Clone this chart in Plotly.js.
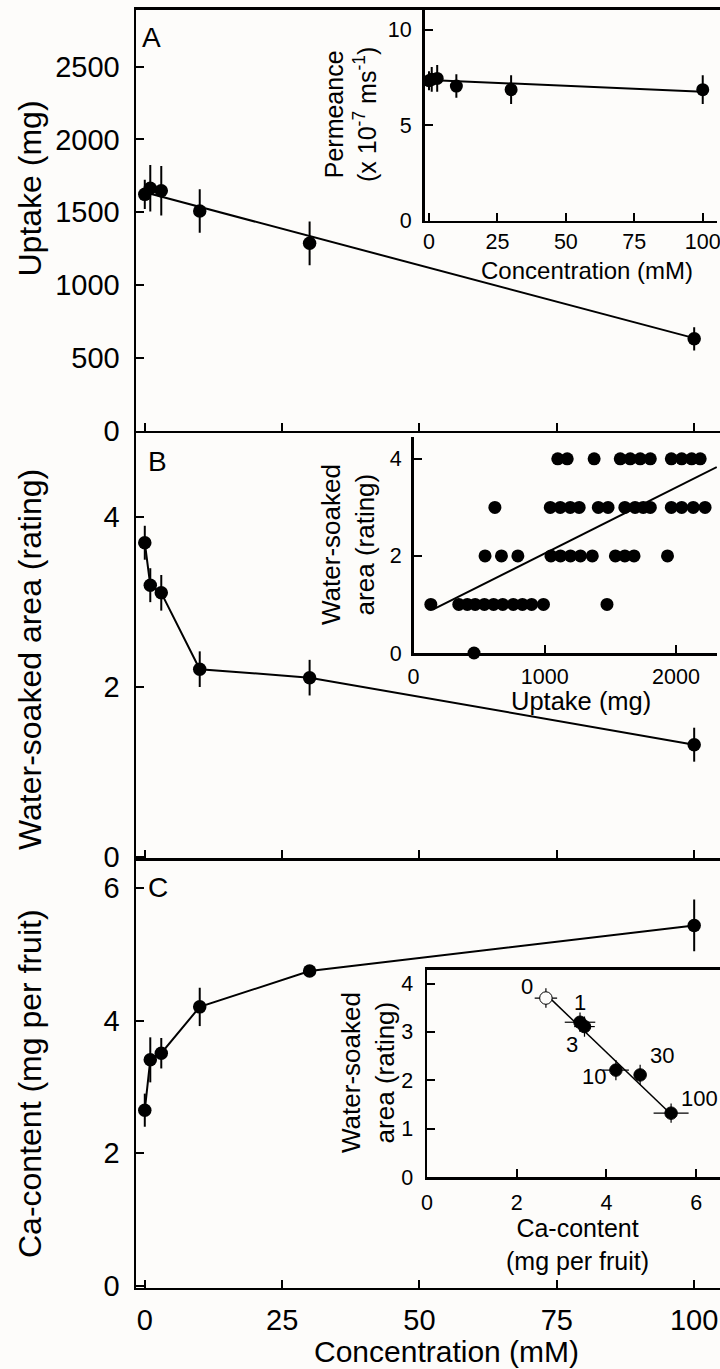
<!DOCTYPE html>
<html><head><meta charset="utf-8">
<script src="https://cdn.plot.ly/plotly-3.0.1.min.js"></script>
<style>html,body{margin:0;padding:0;background:#fdfcfa;} #chart{width:720px;height:1369px;}</style>
</head><body><div id="chart"></div>
<script>
// ---------- data ----------
const conc = [0, 1, 3, 10, 30, 100];
const concLabels = ['0', '1', '3', '10', '30', '100'];

const uptake = [1623, 1665, 1648, 1509, 1287, 631];
const uptakeErr = [100, 160, 170, 150, 150, 80];
const uptakeFitX = [0, 100];
const uptakeFitY = [1637, 636];

const permeance = [7.33, 7.4, 7.45, 7.05, 6.86, 6.86];
const permeanceErr = [0.5, 0.65, 0.7, 0.62, 0.75, 0.75];
const permFitX = [0, 100];
const permFitY = [7.37, 6.75];

const waterSoaked = [3.70, 3.20, 3.11, 2.21, 2.11, 1.32];
const waterSoakedErr = [0.2, 0.2, 0.21, 0.21, 0.21, 0.2];

const caContent = [2.65, 3.41, 3.51, 4.21, 4.75, 5.44];
const caErr = [0.25, 0.34, 0.23, 0.29, 0.05, 0.39];

const indivUptake = [
  461,
  132, 345, 410, 470, 540, 610, 680, 760, 830, 900, 990, 1474,
  545, 670, 795, 1047, 1120, 1196, 1272, 1362, 1538, 1610, 1680, 1935,
  620, 1042, 1118, 1194, 1262, 1408, 1482, 1610, 1688, 1750, 1804, 1964, 2043, 2131, 2221,
  1099, 1171, 1376, 1575, 1651, 1727, 1804, 1964, 2043, 2119, 2184
];
const indivRating = [
  0,
  1, 1, 1, 1, 1, 1, 1, 1, 1, 1, 1, 1,
  2, 2, 2, 2, 2, 2, 2, 2, 2, 2, 2, 2,
  3, 3, 3, 3, 3, 3, 3, 3, 3, 3, 3, 3, 3, 3, 3,
  4, 4, 4, 4, 4, 4, 4, 4, 4, 4, 4
];
const wsFitX = [150, 2310];
const wsFitY = [0.9, 3.83];

const caWsFitX = [2.67, 5.48];
const caWsFitY = [3.76, 1.26];

// ---------- styling ----------
const FONT = '"Liberation Sans", Arial, sans-serif';
const BLACK = '#000';
const BG = '#fdfcfa';
const W = 720, H = 1369;
const px = v => v / W;
const py = v => 1 - v / H;

function errBar(arr, th) { return {type: 'data', array: arr, visible: true, color: BLACK, thickness: th, width: 0}; }

const traces = [];
// Panel A
traces.push({x: uptakeFitX, y: uptakeFitY, xaxis: 'x', yaxis: 'y', mode: 'lines', line: {color: BLACK, width: 2}, hoverinfo: 'skip'});
traces.push({x: conc, y: uptake, xaxis: 'x', yaxis: 'y', mode: 'markers', marker: {color: BLACK, size: 13.5}, error_y: errBar(uptakeErr, 2), cliponaxis: false});
// Inset A
traces.push({x: permFitX, y: permFitY, xaxis: 'x4', yaxis: 'y4', mode: 'lines', line: {color: BLACK, width: 2}, hoverinfo: 'skip'});
traces.push({x: conc, y: permeance, xaxis: 'x4', yaxis: 'y4', mode: 'markers', marker: {color: BLACK, size: 13}, error_y: errBar(permeanceErr, 2), cliponaxis: false});
// Panel B
traces.push({x: conc, y: waterSoaked, xaxis: 'x2', yaxis: 'y2', mode: 'lines+markers', line: {color: BLACK, width: 2}, marker: {color: BLACK, size: 13.5}, error_y: errBar(waterSoakedErr, 2), cliponaxis: false});
// Inset B
traces.push({x: wsFitX, y: wsFitY, xaxis: 'x5', yaxis: 'y5', mode: 'lines', line: {color: BLACK, width: 2}, hoverinfo: 'skip'});
traces.push({x: indivUptake, y: indivRating, xaxis: 'x5', yaxis: 'y5', mode: 'markers', marker: {color: BLACK, size: 13}, cliponaxis: false});
// Panel C
traces.push({x: conc, y: caContent, xaxis: 'x3', yaxis: 'y3', mode: 'lines+markers', line: {color: BLACK, width: 2}, marker: {color: BLACK, size: 13.5}, error_y: errBar(caErr, 2), cliponaxis: false});
// Inset C
traces.push({x: caWsFitX, y: caWsFitY, xaxis: 'x6', yaxis: 'y6', mode: 'lines', line: {color: BLACK, width: 1.5}, hoverinfo: 'skip'});
traces.push({x: caContent, y: waterSoaked, xaxis: 'x6', yaxis: 'y6', mode: 'markers',
  marker: {color: conc.map(c => c === 0 ? BG : BLACK), size: 12.5, line: {color: BLACK, width: 1}},
  error_x: errBar(caErr, 1.2), error_y: errBar(waterSoakedErr, 1.2), cliponaxis: false});

function ax(extra) {
  return Object.assign({
    showline: true, linecolor: BLACK, linewidth: 2.5, ticks: 'inside', ticklen: 8, tickwidth: 2,
    tickcolor: BLACK, showgrid: false, zeroline: false, fixedrange: true, ticklabeloverflow: 'allow',
    tickfont: {family: FONT, size: 29, color: BLACK}
  }, extra);
}
const insetTick = {family: FONT, size: 21.5, color: BLACK};

const mainX = [px(136), 1];
const layout = {
  width: W, height: H, margin: {l: 0, r: 0, t: 0, b: 0},
  paper_bgcolor: BG, plot_bgcolor: 'rgba(0,0,0,0)', showlegend: false,
  font: {family: FONT, color: BLACK},
  xaxis: ax({domain: mainX, anchor: 'y', range: [-1.6, 104.7], tickvals: [0, 25, 50, 75, 100], showticklabels: false, mirror: true}),
  yaxis: ax({domain: [py(430.75), py(9.55)], anchor: 'x', range: [0, 2892], tickvals: [0, 500, 1000, 1500, 2000, 2500], ticklabelstandoff: 8}),
  xaxis2: ax({domain: mainX, anchor: 'y2', range: [-1.6, 104.7], tickvals: [0, 25, 50, 75, 100], showticklabels: false}),
  yaxis2: ax({domain: [py(858.05), py(430.75)], anchor: 'x2', range: [-0.016, 5.02], tickvals: [0, 2, 4], ticklabelstandoff: 8}),
  xaxis3: ax({domain: mainX, anchor: 'y3', range: [-1.6, 104.7], tickvals: [0, 25, 50, 75, 100], ticklabelstandoff: 5}),
  yaxis3: ax({domain: [py(1287.75), py(858.05)], anchor: 'x3', range: [-0.031, 6.457], tickvals: [0, 2, 4, 6], ticklabelstandoff: 8}),
  xaxis4: ax({domain: [px(424.5), px(716.7)], anchor: 'y4', range: [-1.64, 105.1], tickvals: [0, 25, 50, 75, 100], tickfont: insetTick, ticklabelstandoff: 3.5}),
  yaxis4: ax({domain: [py(220.7), py(10)], anchor: 'x4', range: [0, 11.03], tickvals: [0, 5, 10], tickfont: insetTick, ticklabelstandoff: 6}),
  xaxis5: ax({domain: [px(413.5), px(717)], anchor: 'y5', range: [0, 2312], tickvals: [0, 1000, 2000], tickfont: insetTick, ticklabelstandoff: 3}),
  yaxis5: ax({domain: [py(653), py(437)], anchor: 'x5', range: [0, 4.45], tickvals: [0, 2, 4], tickfont: insetTick, ticklabelstandoff: 5}),
  xaxis6: ax({domain: [px(427), 1], anchor: 'y6', range: [0, 6.53], tickvals: [0, 2, 4, 6], tickfont: insetTick, ticklabelstandoff: 5, mirror: true}),
  yaxis6: ax({domain: [py(1177), py(969.5)], anchor: 'x6', range: [0, 4.29], tickvals: [0, 1, 2, 3, 4], tickfont: insetTick, ticklabelstandoff: 7}),
  annotations: []
};

function note(text, x, y, size, angle) {
  layout.annotations.push({text: text, x: px(x), y: py(y), xref: 'paper', yref: 'paper', xanchor: 'center', yanchor: 'middle',
    showarrow: false, textangle: angle || 0, font: {family: FONT, size: size, color: BLACK}});
}
// panel letters
note('A', 151.7, 37.5, 28);
note('B', 157, 461, 28);
note('C', 158, 887.5, 28);
// main axis titles
note('Uptake (mg)', 30, 188.5, 32, -90);
note('Water-soaked area (rating)', 30, 660, 32, -90);
note('Ca-content (mg per fruit)', 30, 1084, 32, -90);
note('Concentration (mM)', 446, 1351.5, 30);
// inset titles
note('Permeance<br>(x 10<sup>-7</sup> ms<sup>-1</sup>)', 351, 115, 25, -90);
note('Concentration (mM)', 586.5, 270, 24);
note('Water-soaked<br>area (rating)', 348, 545, 26, -90);
note('Uptake (mg)', 580.5, 701, 25.5);
note('Water-soaked<br>area (rating)', 368, 1073, 26, -90);
note('Ca-content<br>(mg per fruit)', 577, 1244, 25);
// inset C point labels
const labelShift = [[-19, 12], [0, 20], [-12, -18], [-22, -6], [22, 19], [28, 15]];
concLabels.forEach((t, i) => {
  layout.annotations.push({text: t, x: caContent[i], y: waterSoaked[i], xref: 'x6', yref: 'y6', showarrow: false,
    xshift: labelShift[i][0], yshift: labelShift[i][1], font: {family: FONT, size: 22, color: BLACK}});
});

Plotly.newPlot('chart', traces, layout, {staticPlot: true, displayModeBar: false});
</script>
</body></html>
